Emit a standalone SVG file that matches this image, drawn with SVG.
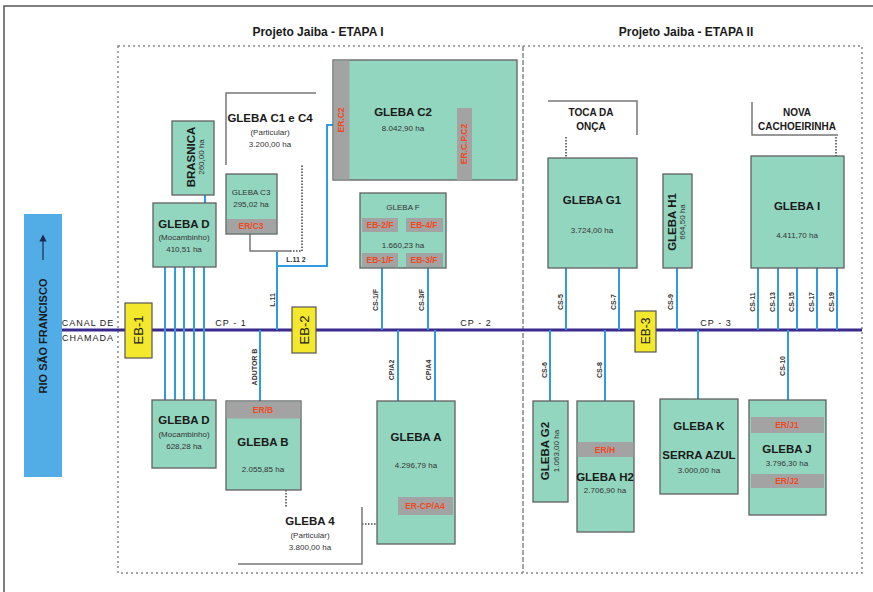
<svg xmlns="http://www.w3.org/2000/svg" width="873" height="592" viewBox="0 0 873 592">
<defs>
<style>
.t{font-family:"Liberation Sans Narrow","Liberation Sans",Arial,sans-serif;fill:#1a1a1a;text-anchor:middle}
.b{font-weight:bold}
.tt{font-size:12px;font-weight:bold}
.n{font-size:11.5px;font-weight:bold}
.v{font-size:8px;fill:#333}
.r{font-size:8.5px;fill:#ee4a22;font-weight:bold}
.s{font-size:7px;fill:#333;font-weight:bold}
.box{fill:#93d6c0;stroke:#606060;stroke-width:1.3}
.band{fill:#a3a3a3}
.eb{fill:#f3e82c;stroke:#555;stroke-width:1.2}
.bl{stroke:#2e9be2;stroke-width:2;fill:none}
.gr{stroke:#777;stroke-width:1.5;fill:none}
.dot{stroke:#444;stroke-width:1.5;stroke-dasharray:1.5 1.5;fill:none}
</style>
<marker id="ah" markerWidth="6" markerHeight="6" refX="3" refY="3" orient="auto"><path d="M0,0 L6,3 L0,6 z" fill="#1a2a50"/></marker>
</defs>
<rect width="873" height="592" fill="#fff"/>
<path d="M4,592 V6 H873" fill="none" stroke="#555" stroke-width="1.5"/>
<g id="frame">
<rect x="118" y="46" width="744" height="527" fill="none" stroke="#888" stroke-width="1.5" stroke-dasharray="2 3"/>
<line x1="523" y1="46" x2="523" y2="573" stroke="#888" stroke-width="1.5" stroke-dasharray="5 2"/>
<text class="t tt" x="318" y="36">Projeto Jaiba - ETAPA I</text>
<text class="t tt" x="686" y="36">Projeto Jaiba - ETAPA II</text>
</g>
<g id="rio">
<rect x="24" y="214" width="38" height="263" fill="#52ade6"/>
<line x1="43" y1="260" x2="43" y2="238" stroke="#1a2a50" stroke-width="1.2" marker-end="url(#ah)"/>
<text class="t b" font-size="11" transform="translate(47,336) rotate(-90)" fill="#1a2a50">RIO SÃO FRANCISCO</text>
</g>
<g id="connectors">
<line x1="62" y1="330" x2="862" y2="330" stroke="#3b2a8c" stroke-width="3"/>
<path class="bl" d="M165,267V400M175,267V400M184,267V400M194,267V400M204,267V400M205,195V203"/>
<path class="bl" d="M277,252V330M277,266H327V125H333"/>
<path class="bl" d="M382,268V330M428,268V330M260,330V401M398,330V401M435,330V401"/>
<path class="bl" d="M566,268V330M619,268V330M677,268V330M550,330V401M605,330V401M698,330V399M788,330V400"/>
<path class="bl" d="M758,268V330M778,268V330M797,268V330M817,268V330M837,268V330"/>
<path class="gr" d="M250,234V251H290"/>
<path class="dot" d="M290,251H302V165"/>
<path class="dot" d="M286,490V507M362,524H377M566,137V158M836,137V157"/>
<text class="t s" x="296" y="262">L.11 2</text>
<text class="t s" transform="translate(275,300) rotate(-90)">L.11</text>
<text class="t s" transform="translate(378,300) rotate(-90)">CS-1/F</text>
<text class="t s" transform="translate(424,300) rotate(-90)">CS-3/F</text>
<text class="t s" transform="translate(257,367) rotate(-90)">ADUTOR B</text>
<text class="t s" transform="translate(394,370) rotate(-90)">CP/A2</text>
<text class="t s" transform="translate(431,370) rotate(-90)">CP/A4</text>
<text class="t s" transform="translate(563,302) rotate(-90)">CS-5</text>
<text class="t s" transform="translate(616,302) rotate(-90)">CS-7</text>
<text class="t s" transform="translate(673,302) rotate(-90)">CS-9</text>
<text class="t s" transform="translate(547,370) rotate(-90)">CS-6</text>
<text class="t s" transform="translate(602,370) rotate(-90)">CS-8</text>
<text class="t s" transform="translate(785,366) rotate(-90)">CS-10</text>
<text class="t s" transform="translate(755,302) rotate(-90)">CS-11</text>
<text class="t s" transform="translate(775,302) rotate(-90)">CS-13</text>
<text class="t s" transform="translate(794,302) rotate(-90)">CS-15</text>
<text class="t s" transform="translate(814,302) rotate(-90)">CS-17</text>
<text class="t s" transform="translate(834,302) rotate(-90)">CS-19</text>
<text class="t" font-size="9" x="88" y="326" fill="#333" letter-spacing="1">CANAL DE</text>
<text class="t" font-size="9" x="88" y="341" fill="#333" letter-spacing="1">CHAMADA</text>
<text class="t" font-size="9" x="231" y="326" fill="#333" letter-spacing="1">CP - 1</text>
<text class="t" font-size="9" x="476" y="326" fill="#333" letter-spacing="1">CP - 2</text>
<text class="t" font-size="9" x="716" y="326" fill="#333" letter-spacing="1">CP - 3</text>
</g>
<g id="eb1"><rect class="eb" x="125" y="303" width="27" height="55"/><text class="t" font-size="13" transform="translate(143,330) rotate(-90)">EB-1</text></g>
<g id="eb2"><rect class="eb" x="292" y="307" width="24" height="46"/><text class="t" font-size="13" transform="translate(309,330) rotate(-90)">EB-2</text></g>
<g id="eb3"><rect class="eb" x="635" y="311" width="21" height="41"/><text class="t" font-size="12" transform="translate(650,331) rotate(-90)">EB-3</text></g>
<g id="brasnica"><rect class="box" x="172" y="121" width="42" height="74"/>
<text class="t n" transform="translate(195,157) rotate(-90)">BRASNICA</text>
<text class="t v" transform="translate(204,157) rotate(-90)">260,00 ha</text></g>
<g id="glebaD1"><rect class="box" x="153" y="203" width="63" height="64"/>
<text class="t n" x="184" y="228">GLEBA D</text>
<text class="t v" x="184" y="240">(Mocambinho)</text>
<text class="t v" x="184" y="252">410,51 ha</text></g>
<g id="glebaC1C4"><path class="gr" d="M226,165V93H316"/>
<text class="t n" x="270" y="122">GLEBA C1 e C4</text>
<text class="t v" x="270" y="135">(Particular)</text>
<text class="t v" x="270" y="147">3.200,00 ha</text></g>
<g id="glebaC3"><rect class="box" x="226" y="174" width="51" height="60"/>
<rect class="band" x="227" y="219" width="49" height="14"/>
<text class="t v" x="251" y="195">GLEBA C3</text>
<text class="t v" x="251" y="207">295,02 ha</text>
<text class="t r" x="251" y="229">ER/C3</text></g>
<g id="glebaC2"><rect class="box" x="333" y="60" width="184" height="120"/>
<rect class="band" x="333.5" y="60.5" width="16" height="119"/>
<rect class="band" x="457" y="108" width="15" height="72"/>
<text class="t n" x="403" y="116">GLEBA C2</text>
<text class="t v" x="403" y="131">8.042,90 ha</text>
<text class="t r" transform="translate(344,120) rotate(-90)">ER.C2</text>
<text class="t r" transform="translate(467,144) rotate(-90)">ER.C.P.C2</text></g>
<g id="glebaF"><rect class="box" x="360" y="193" width="86" height="75"/>
<rect class="band" x="362" y="218" width="36" height="14"/><rect class="band" x="406" y="218" width="37" height="14"/>
<rect class="band" x="362" y="253" width="36" height="14"/><rect class="band" x="406" y="253" width="37" height="14"/>
<text class="t v" x="403" y="210">GLEBA F</text>
<text class="t r" x="380" y="228">EB-2/F</text><text class="t r" x="424" y="228">EB-4/F</text>
<text class="t v" x="403" y="248">1.660,23 ha</text>
<text class="t r" x="380" y="263">EB-1/F</text><text class="t r" x="424" y="263">EB-3/F</text></g>
<g id="glebaD2"><rect class="box" x="152" y="400" width="64" height="68"/>
<text class="t n" x="184" y="424">GLEBA D</text>
<text class="t v" x="184" y="437">(Mocambinho)</text>
<text class="t v" x="184" y="449">628,28 ha</text></g>
<g id="glebaB"><rect class="box" x="226" y="401" width="75" height="89"/>
<rect class="band" x="226.5" y="401.5" width="74" height="17"/>
<text class="t r" x="263" y="413">ER/B</text>
<text class="t n" x="263" y="446">GLEBA B</text>
<text class="t v" x="263" y="472">2.055,85 ha</text></g>
<g id="gleba4"><path class="gr" d="M238,564H362V507"/>
<text class="t n" x="310" y="525">GLEBA 4</text>
<text class="t v" x="310" y="538">(Particular)</text>
<text class="t v" x="310" y="550">3.800,00 ha</text></g>
<g id="glebaA"><rect class="box" x="377" y="401" width="78" height="143"/>
<rect class="band" x="398" y="497" width="55" height="18"/>
<text class="t n" x="416" y="441">GLEBA A</text>
<text class="t v" x="416" y="468">4.296,79 ha</text>
<text class="t r" x="425" y="509">ER-CP/A4</text></g>
<g id="tocaDaOnca"><path class="gr" d="M548,101H637V135"/>
<text class="t b" font-size="10" x="591" y="116">TOCA DA</text>
<text class="t b" font-size="10" x="591" y="130">ONÇA</text></g>
<g id="glebaG1"><rect class="box" x="548" y="158" width="89" height="110"/>
<text class="t n" x="592" y="204">GLEBA G1</text>
<text class="t v" x="592" y="233">3.724,00 ha</text></g>
<g id="glebaH1"><rect class="box" x="663" y="174" width="29" height="94"/>
<text class="t n" transform="translate(676,222) rotate(-90)">GLEBA H1</text>
<text class="t v" transform="translate(685,222) rotate(-90)">664,50 ha</text></g>
<g id="novaCachoeirinha"><path class="gr" d="M752,102V135H838"/>
<text class="t b" font-size="10" x="797" y="116">NOVA</text>
<text class="t b" font-size="10" x="797" y="130">CACHOEIRINHA</text></g>
<g id="glebaI"><rect class="box" x="751" y="156" width="93" height="112"/>
<text class="t n" x="797" y="210">GLEBA I</text>
<text class="t v" x="797" y="238">4.411,70 ha</text></g>
<g id="glebaG2"><rect class="box" x="533" y="401" width="35" height="101"/>
<text class="t n" transform="translate(549,451) rotate(-90)">GLEBA G2</text>
<text class="t v" transform="translate(559,451) rotate(-90)">1.063,00 ha</text></g>
<g id="glebaH2"><rect class="box" x="577" y="401" width="57" height="131"/>
<rect class="band" x="577.5" y="442" width="56" height="15"/>
<text class="t r" x="605" y="453">ER/H</text>
<text class="t n" x="605" y="481">GLEBA H2</text>
<text class="t v" x="605" y="493">2.706,90 ha</text></g>
<g id="glebaK"><rect class="box" x="660" y="399" width="78" height="95"/>
<text class="t n" x="699" y="430">GLEBA K</text>
<text class="t n" x="699" y="459">SERRA AZUL</text>
<text class="t v" x="699" y="473">3.000,00 ha</text></g>
<g id="glebaJ"><rect class="box" x="749" y="400" width="77" height="115"/>
<rect class="band" x="751" y="417" width="73" height="16"/>
<rect class="band" x="751" y="474" width="73" height="14"/>
<text class="t r" x="787" y="428">ER/J1</text>
<text class="t n" x="787" y="453">GLEBA J</text>
<text class="t v" x="787" y="466">3.796,30 ha</text>
<text class="t r" x="787" y="484">ER/J2</text></g>
</svg>
